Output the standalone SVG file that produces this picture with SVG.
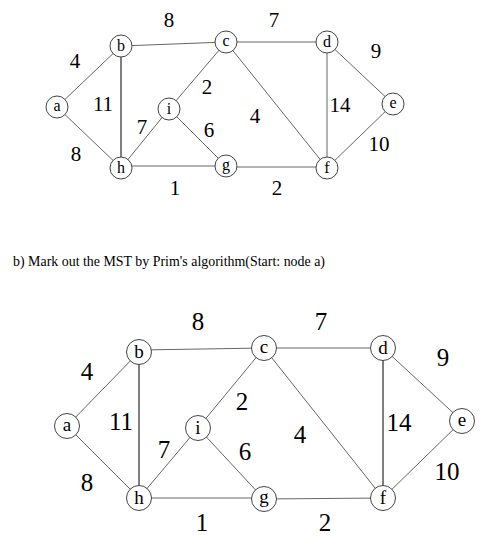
<svg xmlns="http://www.w3.org/2000/svg" width="489" height="545" viewBox="0 0 489 545">
<style>
.e{stroke:#666;stroke-width:1;fill:none}
.k{stroke:#000;stroke-width:1;fill:none}
.n{fill:#fff;stroke:#444;stroke-width:1}
.t{font-family:"Liberation Serif","Times New Roman",serif;fill:#000;text-anchor:middle}
.w1{font-size:21px}
.w2{font-size:25px}
.l1{font-size:16px}
.l2{font-size:19px}
</style>
<rect width="489" height="545" fill="#fff"/>
<g id="connectors-top">
<line class="e" x1="57" y1="107" x2="121" y2="46"/>
<line class="e" x1="57" y1="107" x2="121" y2="168"/>
<line class="k" x1="121" y1="46" x2="121" y2="168"/>
<line class="e" x1="121" y1="46" x2="226" y2="42"/>
<line class="e" x1="226" y1="42" x2="327" y2="42"/>
<line class="e" x1="226" y1="42" x2="169" y2="109"/>
<line class="e" x1="226" y1="42" x2="327" y2="168"/>
<line class="e" x1="327" y1="42" x2="393" y2="104"/>
<line class="e" x1="327" y1="42" x2="327" y2="168"/>
<line class="e" x1="393" y1="104" x2="327" y2="168"/>
<line class="e" x1="169" y1="109" x2="121" y2="168"/>
<line class="e" x1="169" y1="109" x2="226" y2="166"/>
<line class="e" x1="121" y1="166" x2="226" y2="166"/>
<line class="e" x1="226" y1="167" x2="327" y2="167"/>
</g>
<g id="top-a"><circle class="n" cx="57" cy="107" r="11"/><text class="t l1" x="57" y="111">a</text></g>
<g id="top-b"><circle class="n" cx="121" cy="46" r="11"/><text class="t l1" x="121" y="51">b</text></g>
<g id="top-c"><circle class="n" cx="226" cy="42" r="11"/><text class="t l1" x="226" y="46">c</text></g>
<g id="top-d"><circle class="n" cx="327" cy="42" r="11"/><text class="t l1" x="327" y="47">d</text></g>
<g id="top-e"><circle class="n" cx="393" cy="104" r="11"/><text class="t l1" x="393" y="108">e</text></g>
<g id="top-i"><circle class="n" cx="169" cy="109" r="11"/><text class="t l1" x="169" y="114">i</text></g>
<g id="top-h"><circle class="n" cx="121" cy="168" r="11"/><text class="t l1" x="121" y="173">h</text></g>
<g id="top-g"><circle class="n" cx="226" cy="166" r="11"/><text class="t l1" x="226" y="170">g</text></g>
<g id="top-f"><circle class="n" cx="327" cy="168" r="11"/><text class="t l1" x="327" y="173">f</text></g>
<g id="top-weights" class="t w1">
<text x="169" y="27">8</text>
<text x="274" y="27">7</text>
<text x="75" y="68">4</text>
<text x="376" y="58">9</text>
<text x="103" y="111">11</text>
<text x="207" y="94">2</text>
<text x="142" y="134">7</text>
<text x="209" y="137">6</text>
<text x="255" y="123">4</text>
<text x="340" y="112">14</text>
<text x="379" y="151">10</text>
<text x="76" y="161">8</text>
<text x="175" y="195">1</text>
<text x="277" y="195">2</text>
</g>
<text x="13" y="265.5" font-family="Liberation Serif, Times New Roman, serif" font-size="15" textLength="312" lengthAdjust="spacingAndGlyphs">b) Mark out the MST by Prim's algorithm(Start: node a)</text>
<g id="connectors-bottom">
<line class="e" x1="67" y1="426" x2="139" y2="352"/>
<line class="e" x1="67" y1="426" x2="139" y2="498"/>
<line class="k" x1="139" y1="352" x2="139" y2="498"/>
<line class="e" x1="139" y1="350" x2="264" y2="348"/>
<line class="e" x1="264" y1="348" x2="383" y2="348"/>
<line class="e" x1="264" y1="348" x2="198" y2="428"/>
<line class="e" x1="264" y1="348" x2="383" y2="498"/>
<line class="e" x1="383" y1="348" x2="462" y2="421"/>
<line class="k" x1="383" y1="348" x2="383" y2="498"/>
<line class="e" x1="462" y1="421" x2="383" y2="498"/>
<line class="e" x1="198" y1="428" x2="139" y2="498"/>
<line class="e" x1="198" y1="428" x2="264" y2="499"/>
<line class="e" x1="139" y1="498" x2="264" y2="498"/>
<line class="e" x1="264" y1="499" x2="383" y2="498"/>
</g>
<g id="bot-a"><circle class="n" cx="67" cy="426" r="12.5"/><text class="t l2" x="67" y="431">a</text></g>
<g id="bot-b"><circle class="n" cx="139" cy="352" r="12.5"/><text class="t l2" x="139" y="358">b</text></g>
<g id="bot-c"><circle class="n" cx="264" cy="348" r="12.5"/><text class="t l2" x="264" y="353">c</text></g>
<g id="bot-d"><circle class="n" cx="383" cy="348" r="12.5"/><text class="t l2" x="383" y="354">d</text></g>
<g id="bot-e"><circle class="n" cx="462" cy="421" r="12.5"/><text class="t l2" x="462" y="426">e</text></g>
<g id="bot-i"><circle class="n" cx="198" cy="428" r="12.5"/><text class="t l2" x="198" y="434">i</text></g>
<g id="bot-h"><circle class="n" cx="139" cy="498" r="12.5"/><text class="t l2" x="139" y="504">h</text></g>
<g id="bot-g"><circle class="n" cx="264" cy="499" r="12.5"/><text class="t l2" x="264" y="503">g</text></g>
<g id="bot-f"><circle class="n" cx="383" cy="498" r="12.5"/><text class="t l2" x="383" y="504">f</text></g>
<g id="bottom-weights" class="t w2">
<text x="198" y="330">8</text>
<text x="321" y="330">7</text>
<text x="87" y="380">4</text>
<text x="443" y="366">9</text>
<text x="121" y="430">11</text>
<text x="242" y="410">2</text>
<text x="164" y="458">7</text>
<text x="245" y="460">6</text>
<text x="300" y="443">4</text>
<text x="399" y="431">14</text>
<text x="447" y="480">10</text>
<text x="87" y="491">8</text>
<text x="202" y="531">1</text>
<text x="325" y="531">2</text>
</g>
</svg>
